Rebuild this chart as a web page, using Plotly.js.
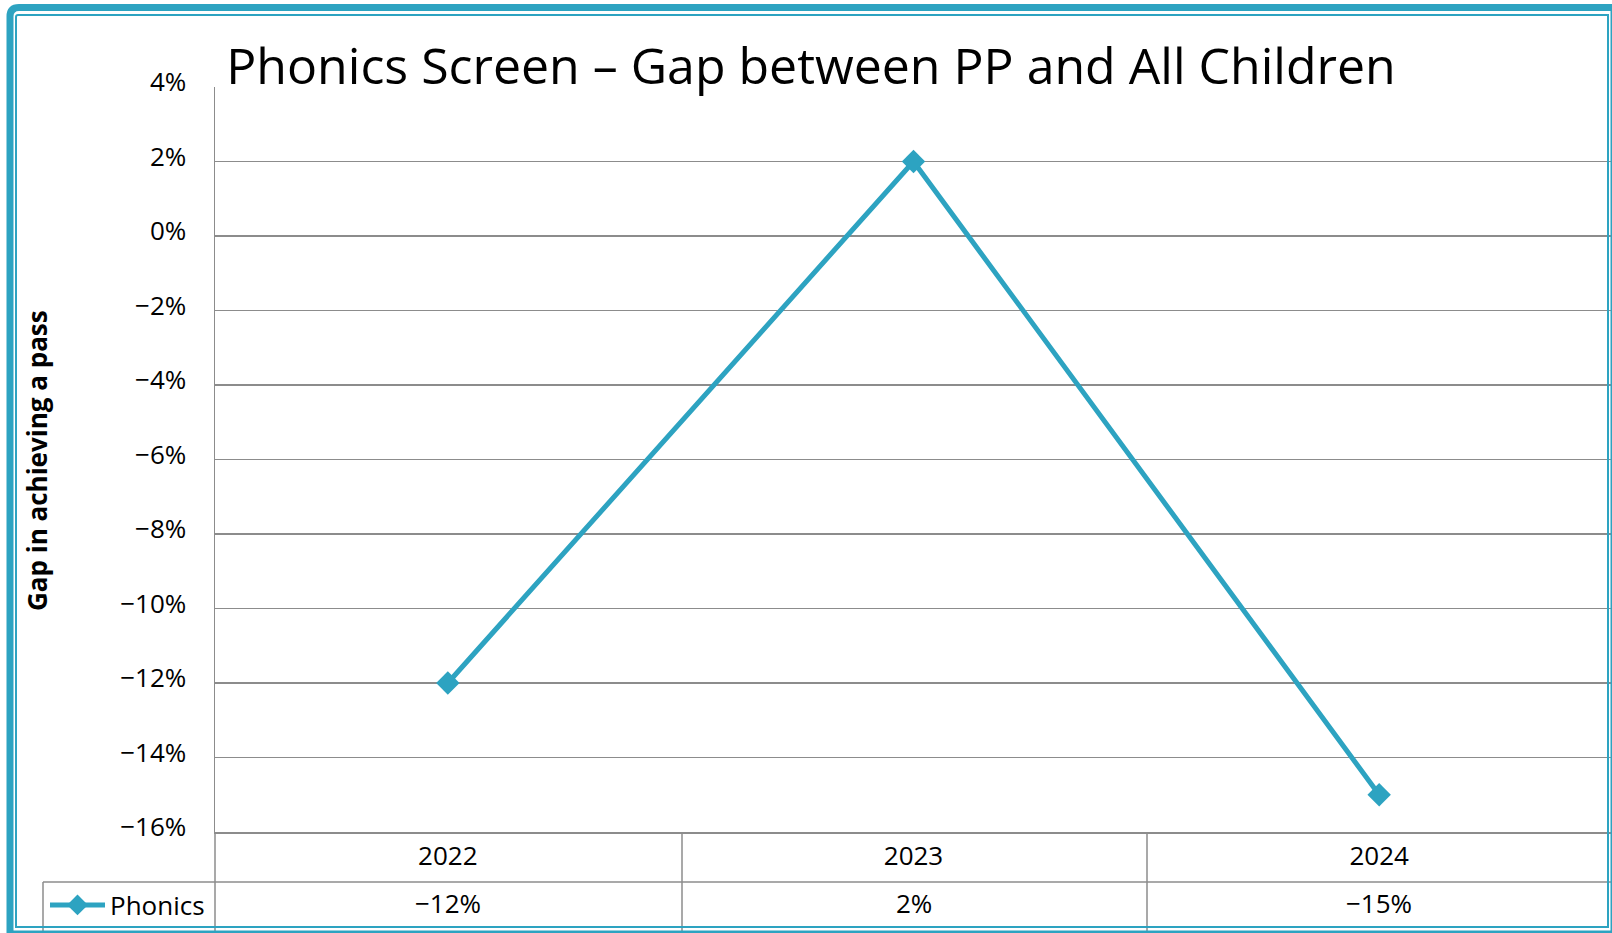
<!DOCTYPE html>
<html>
<head>
<meta charset="utf-8">
<script src="https://cdn.plot.ly/plotly-3.0.1.min.js"></script>
<style>
  html, body { margin: 0; padding: 0; background: #ffffff; }
  #chart { width: 1612px; height: 933px; }
</style>
</head>
<body>
<div id="chart"></div>
<script>
// ---- data ----
const years = ['2022', '2023', '2024'];
const seriesName = 'Phonics';
const gapValues = [-0.12, 0.02, -0.15];
const yTickValues = [0.04, 0.02, 0, -0.02, -0.04, -0.06, -0.08, -0.10, -0.12, -0.14, -0.16];
const chartTitle = 'Phonics Screen \u2013 Gap between PP and All Children';
const yAxisTitle = 'Gap in achieving a pass';

// ---- geometry helpers (pixels -> paper) ----
const W = 1612, H = 933;
const L = 215, R = 0, T = 87, B = 101;
const PW = W - L - R, PH = H - T - B;
const px = X => (X - L) / PW;
const py = Y => (H - B - Y) / PH;

const teal = '#2DA3C1';
const grid = '#8C8C8C';
const font = 'Open Sans, Noto Sans, sans-serif';

function fmtPct(v) {
  const n = Math.round(v * 100);
  return (n < 0 ? '\u2212' + Math.abs(n) : String(n)) + '%';
}

const shapes = [];
// table lines
function line(x0, y0, x1, y1, color, width) {
  shapes.push({type: 'line', xref: 'paper', yref: 'paper', x0: px(x0), y0: py(y0), x1: px(x1), y1: py(y1),
    line: {color: color, width: width}, layer: 'above'});
}
line(L, H - B, L, H, grid, 1.5);
line(682, H - B, 682, H, grid, 1.5);
line(1147, H - B, 1147, H, grid, 1.5);
line(43, 882, W, 882, grid, 1.5);
line(43, 882, 43, H, grid, 1.5);

// outer double border (thick + thin), with rounded top-left corner
function roundedRectPath(x0, y0, x1, y1, r) {
  return 'M' + px(x0) + ',' + py(y1) +
    ' L' + px(x0) + ',' + py(y0 + r) +
    ' Q' + px(x0) + ',' + py(y0) + ' ' + px(x0 + r) + ',' + py(y0) +
    ' L' + px(x1) + ',' + py(y0) +
    ' L' + px(x1) + ',' + py(y1) + ' Z';
}
shapes.push({type: 'path', xref: 'paper', yref: 'paper', path: roundedRectPath(10, 7.5, 1614, 934, 9),
  line: {color: teal, width: 7}, layer: 'above'});
shapes.push({type: 'path', xref: 'paper', yref: 'paper', path: roundedRectPath(16, 15, 1608, 927, 2),
  line: {color: teal, width: 2}, layer: 'above'});

// data-table row of values, one cell per category
const annotations = years.map((yr, i) => ({
  xref: 'x', yref: 'paper', x: i, y: py(903), text: fmtPct(gapValues[i]),
  showarrow: false, xanchor: 'center', yanchor: 'middle',
  font: {family: font, size: 26, color: '#000'}
}));
annotations.push({
  xref: 'paper', yref: 'paper', x: px(37), y: py(460), text: '<b>' + yAxisTitle + '</b>',
  textangle: -90, showarrow: false, xanchor: 'center', yanchor: 'middle',
  font: {family: font, size: 26, color: '#000'}
});

const trace = {
  type: 'scatter', mode: 'lines+markers', name: seriesName,
  x: years, y: gapValues,
  line: {color: teal, width: 5},
  marker: {symbol: 'diamond', size: 18, color: teal},
  cliponaxis: false
};

const layout = {
  width: W, height: H,
  margin: {l: L, r: R, t: T, b: B, pad: 0},
  paper_bgcolor: '#ffffff', plot_bgcolor: '#ffffff',
  title: {text: chartTitle, x: 811 / W, xanchor: 'center', xref: 'container',
    y: 1 - 66 / H, yanchor: 'middle', yref: 'container',
    font: {family: font, size: 50, weight: 500, color: '#000'}},
  showlegend: true,
  legend: {x: px(45), y: py(905), xanchor: 'left', yanchor: 'middle', bgcolor: 'rgba(0,0,0,0)',
    font: {family: font, size: 26, color: '#000'}, itemwidth: 55},
  xaxis: {type: 'category', range: [-0.5, 2.5], showgrid: false, zeroline: false,
    showline: true, linecolor: grid, linewidth: 1.5, ticks: '', ticklabelstandoff: 0,
    tickfont: {family: font, size: 26, color: '#000'}, fixedrange: true},
  yaxis: {range: [-0.16, 0.04], tickvals: yTickValues, tickformat: '.0%',
    showgrid: true, gridcolor: grid, gridwidth: 1.5, zeroline: false,
    showline: true, linecolor: grid, linewidth: 1.5, ticks: '',
    ticklabelstandoff: 22, ticklabelshift: -5,
    tickfont: {family: font, size: 26, color: '#000'}, fixedrange: true},
  shapes: shapes,
  annotations: annotations
};

Plotly.newPlot('chart', [trace], layout, {displayModeBar: false, staticPlot: true});
</script>
</body>
</html>
